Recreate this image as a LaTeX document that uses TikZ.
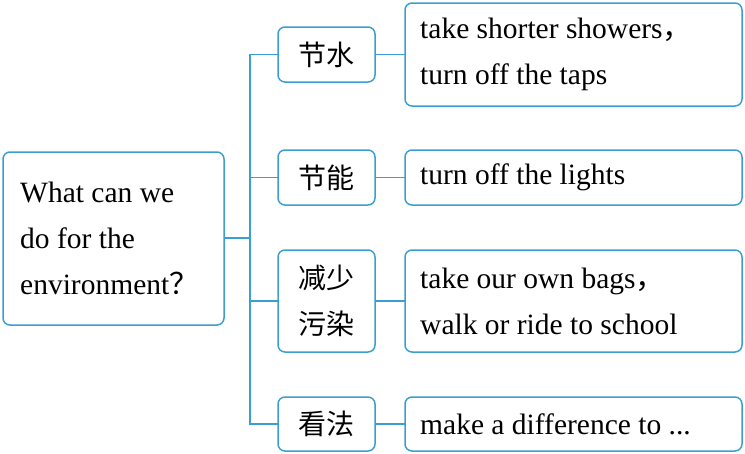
\documentclass[tikz,border=0pt]{standalone}
\usepackage{fontspec}
\setmainfont{Liberation Serif}
\newfontfamily\cjk{Noto Sans CJK SC}
\begin{document}
\begin{tikzpicture}[x=1pt,y=-1pt,
  bx/.style={draw=lb,line width=1.5pt,rounded corners=7pt},
  ln/.style={draw=lb,line width=1.5pt},
  tx/.style={font=\fontsize{29.5}{46}\selectfont,align=left,anchor=west,inner sep=0}]
\definecolor{lb}{HTML}{3A9FD0}
\useasboundingbox (0,0) rectangle (745,453);
\draw[bx] (3,152) rectangle (224,325);
\node[tx] (q) at (20,238) {What can we\\do for the\\environment{\cjk ？}};
\foreach \n/\ya/\yb/\t in {a/27/82/节水, b/150/205/节能, c/250/352/减少\\污染, d/397/451/看法}{
  \draw[bx] (278,\ya) rectangle (375,\yb);
  \node[font=\cjk\fontsize{28}{46}\selectfont,align=center] (m\n) at (326.5,{(\ya+\yb)/2}) {\t};
}
\draw[bx] (405,3) rectangle (742,106);
\draw[bx] (405,150) rectangle (742,205);
\draw[bx] (405,250) rectangle (742,352);
\draw[bx] (405,397) rectangle (742,451);
\node[tx] (ra) at (420,54.5) {take shorter showers{\cjk ，}\\turn off the taps};
\node[tx] (rb) at (420,177.5) {turn off the lights};
\node[tx] (rc) at (420,301) {take our own bags{\cjk ，}\\walk or ride to school};
\node[tx] (rd) at (420,424) {make a difference to ...};
\coordinate (j) at (250,238);
\draw[ln] (224,238) -- (j);
\draw[ln] (278,54.5) -- (250,54.5) -- (250,424) -- (278,424);
\draw[ln] (250,177.5) -- (278,177.5);
\draw[ln] (250,301) -- (278,301);
\foreach \y in {54.5,177.5,301,424} \draw[ln] (375,\y) -- (405,\y);
\end{tikzpicture}
\end{document}
